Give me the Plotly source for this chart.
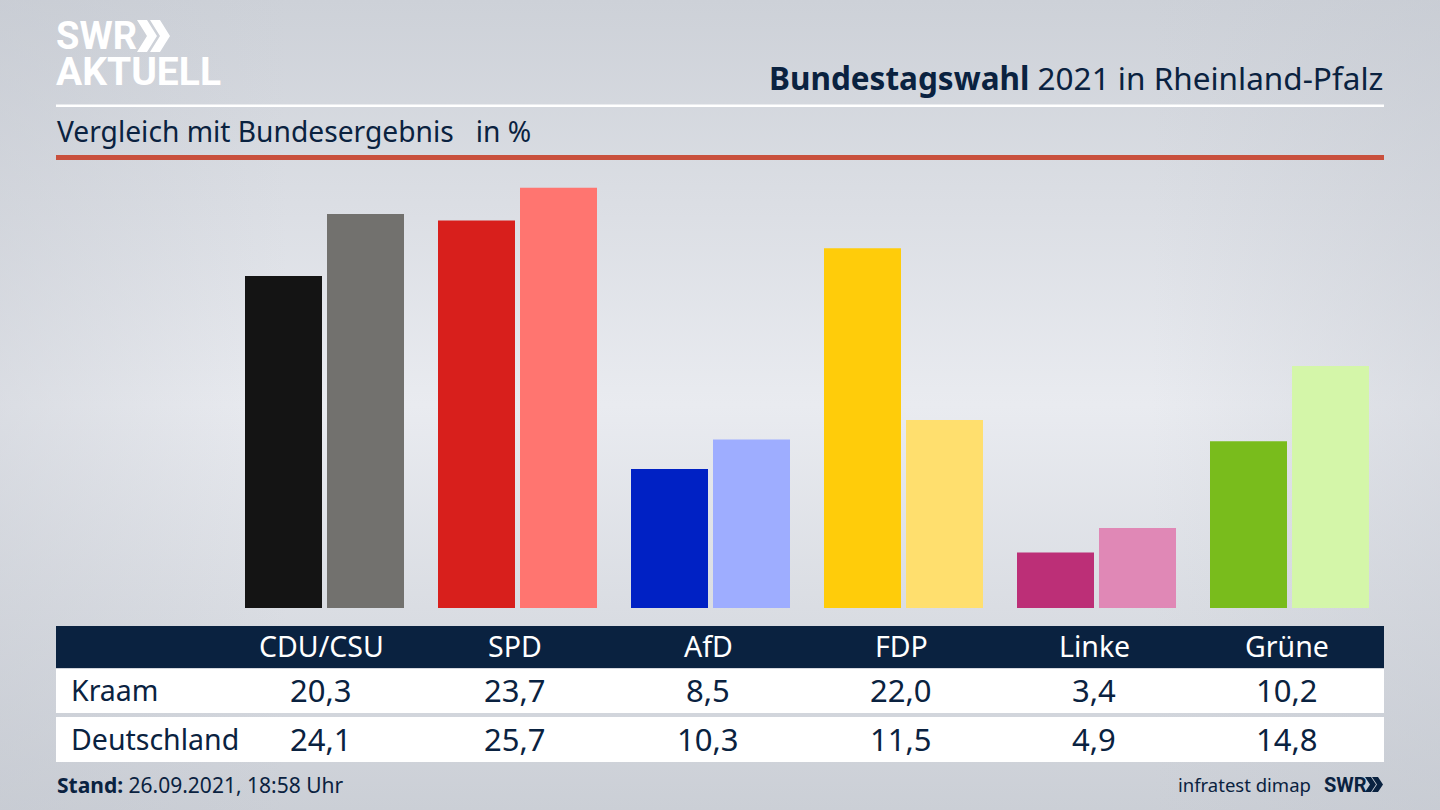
import base64
import plotly.graph_objects as go

# ---- data ----
parties = ["CDU/CSU", "SPD", "AfD", "FDP", "Linke", "Grüne"]
kraam = [20.3, 23.7, 8.5, 22.0, 3.4, 10.2]
deutschland = [24.1, 25.7, 10.3, 11.5, 4.9, 14.8]
colors_kraam = ["#141414", "#d81f1c", "#0021c4", "#ffcc0a", "#bc2f77", "#79bc1c"]
colors_deutschland = ["#72716e", "#ff7570", "#9eadff", "#ffdf6e", "#e088b6", "#d4f6a9"]
row_names = ["Kraam", "Deutschland"]

W, H = 1440, 810
NAVY = "#0a2240"
FONT = "Noto Sans"
LOGO = "Roboto"


def fx(p):
    return p / W


def fy(p):
    return 1 - p / H


def de(v):
    return f"{v:.1f}".replace(".", ",")


svg = f'''<svg xmlns="http://www.w3.org/2000/svg" width="{W}" height="{H}">
<defs>
<linearGradient id="g" x1="0" y1="0" x2="0" y2="1">
<stop offset="0" stop-color="#cdd1d8"/><stop offset="0.5" stop-color="#e9ebf0"/><stop offset="1" stop-color="#cbcfd6"/>
</linearGradient>
<linearGradient id="h" x1="0" y1="0" x2="1" y2="0">
<stop offset="0" stop-color="#c4c8d0" stop-opacity="0.4"/><stop offset="0.2" stop-color="#c4c8d0" stop-opacity="0"/>
<stop offset="0.8" stop-color="#c4c8d0" stop-opacity="0"/><stop offset="1" stop-color="#c4c8d0" stop-opacity="0.4"/>
</linearGradient>
</defs>
<rect width="{W}" height="{H}" fill="url(#g)"/><rect width="{W}" height="{H}" fill="url(#h)"/>
</svg>'''
bg = "data:image/svg+xml;base64," + base64.b64encode(svg.encode()).decode()

fig = go.Figure()
fig.add_bar(x=parties, y=kraam, name=row_names[0], marker_color=colors_kraam, marker_line_width=0)
fig.add_bar(x=parties, y=deutschland, name=row_names[1], marker_color=colors_deutschland, marker_line_width=0)


def rect(x0, y0, x1, y1, color):
    fig.add_shape(type="rect", xref="paper", yref="paper", x0=fx(x0), x1=fx(x1), y0=fy(y0), y1=fy(y1),
                  fillcolor=color, line_width=0, layer="above")


def text(x, y, s, size, color=NAVY, anchor="center", font=FONT):
    fig.add_annotation(xref="paper", yref="paper", x=fx(x), y=fy(y), text=s, showarrow=False,
                       xanchor=anchor, yanchor="middle", align=anchor, borderpad=0,
                       font=dict(family=font, size=size, color=color))


def chevrons(x, y0, y1, w, gap, thick, color):
    # double chevron drawn as closed paths in paper coordinates
    for k in range(2):
        xs = x + k * gap
        ym = (y0 + y1) / 2
        pts = [(xs, y0), (xs + thick, y0), (xs + thick + w, ym), (xs + thick, y1), (xs, y1), (xs + w, ym)]
        d = "M " + " L ".join(f"{fx(a):.5f},{fy(b):.5f}" for a, b in pts) + " Z"
        fig.add_shape(type="path", xref="paper", yref="paper", path=d, fillcolor=color, line_width=0)


# header lines
rect(56, 104.5, 1384, 107, "#ffffff")
rect(56, 155, 1384, 160, "#c9503d")

# logo
text(55, 36, "<b>SWR</b>", 38, "#ffffff", "left", LOGO)
chevrons(137, 20, 52, 10, 13, 10, "#ffffff")
text(55, 72, "<b>AKTUELL</b>", 39, "#ffffff", "left", LOGO)

# titles
text(1384, 77, "<b>Bundestagswahl</b> 2021 in Rheinland-Pfalz", 31.5, anchor="right")
text(56, 131, "Vergleich mit Bundesergebnis\u00a0\u00a0\u00a0in %", 28.2, anchor="left")

# table
rect(56, 626, 1384, 668, NAVY)
rect(56, 669, 1384, 713, "#ffffff")
rect(56, 717, 1384, 762, "#ffffff")
col_x = [321, 514.5, 708, 901, 1094, 1287]
for cx, p, a, b in zip(col_x, parties, kraam, deutschland):
    text(cx, 645.5, p, 28.5, "#ffffff")
    text(cx, 690, de(a), 31)
    text(cx, 739, de(b), 31)
text(70, 690, row_names[0], 28.5, anchor="left")
text(70, 739, row_names[1], 28.5, anchor="left")

# footer
text(55.5, 784.5, "<b>Stand:</b> 26.09.2021, 18:58 Uhr", 21, anchor="left")
text(1312, 784, "infratest dimap", 18.5, anchor="right")
text(1323, 784.5, "<b>SWR</b>", 20, anchor="left", font=LOGO)
chevrons(1365, 777, 792, 5, 7, 6, NAVY)

STEP = 193.0
X0 = 324.5
BASE = 608.0
PX_PER_UNIT = 16.35

fig.update_layout(
    width=W, height=H, margin=dict(l=0, r=0, t=0, b=0, pad=0), autosize=False,
    showlegend=False, barmode="group", bargap=1 - 164 / STEP, bargroupgap=5 / 82,
    paper_bgcolor="#e0e3e8", plot_bgcolor="rgba(0,0,0,0)",
    font=dict(family=FONT, color=NAVY),
    xaxis=dict(range=[-X0 / STEP, (W - X0) / STEP], visible=False, domain=[0, 1], type="category"),
    yaxis=dict(range=[0, BASE / PX_PER_UNIT], visible=False, domain=[(H - BASE) / H, 1]),
    images=[dict(source=bg, xref="paper", yref="paper", x=0, y=1, sizex=1, sizey=1,
                 xanchor="left", yanchor="top", sizing="stretch", layer="below")],
)
fig.write_html("out.html", config={"displayModeBar": False},
               post_script="document.body.style.margin='0';document.body.style.overflow='hidden';")
